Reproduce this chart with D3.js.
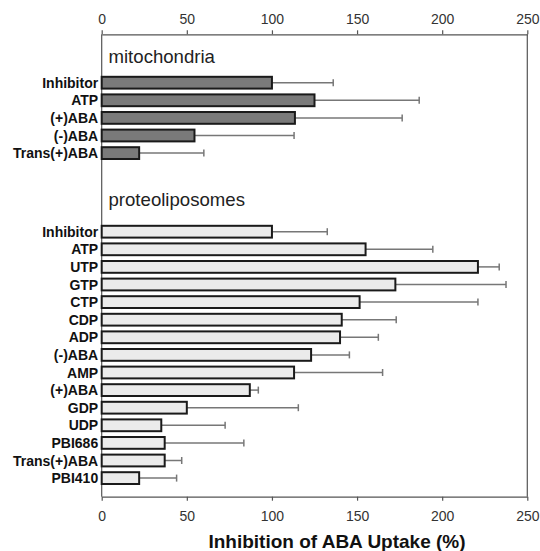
<!DOCTYPE html>
<html>
<head>
<meta charset="utf-8">
<script src="https://cdn.jsdelivr.net/npm/d3@7"></script>
<style>
  html, body { margin: 0; padding: 0; background: #fff; }
  svg { display: block; font-family: "Liberation Sans", Arial, sans-serif; }
</style>
</head>
<body>
<svg id="chart" width="540" height="551"></svg>
<script>
// ---- data ----
const mitoCategories = ["Inhibitor", "ATP", "(+)ABA", "(-)ABA", "Trans(+)ABA"];
const mitoValues = [100, 125, 113.5, 54.5, 22];
const mitoErrors = [36, 61.5, 63, 58.5, 38];

const proteoCategories = ["Inhibitor", "ATP", "UTP", "GTP", "CTP", "CDP", "ADP", "(-)ABA",
  "AMP", "(+)ABA", "GDP", "UDP", "PBI686", "Trans(+)ABA", "PBI410"];
const proteoValues = [100, 155, 221, 172.5, 151.5, 141, 140, 123, 113, 87, 50, 35, 37, 37, 22];
const proteoErrors = [32.5, 39.5, 12.5, 65, 69.5, 32, 22.5, 22.5, 52, 5, 65.5, 37.5, 46.5, 10, 22];

const tickValues = [0, 50, 100, 150, 200, 250];
const panelTitles = ["mitochondria", "proteoliposomes"];
const axisTitle = "Inhibition of ABA Uptake (%)";

// ---- layout ----
const svg = d3.select("#chart");
const xLeft = 101.7, xRight = 527.3, yTop = 34.3, yBottom = 496.7;
const step = 17.6;

const x = d3.scaleLinear().domain([0, 250]).range([xLeft, xRight]);

const yMito = d3.scaleBand().domain(mitoCategories)
  .range([82.7 - step / 2, 82.7 - step / 2 + step * mitoCategories.length])
  .paddingInner(0.33).paddingOuter(0.165);
const yProteo = d3.scaleBand().domain(proteoCategories)
  .range([231.7 - step / 2, 231.7 - step / 2 + step * proteoCategories.length])
  .paddingInner(0.33).paddingOuter(0.165);

// frame lines
svg.append("line").attr("x1", xLeft).attr("x2", xLeft).attr("y1", yTop).attr("y2", yBottom)
  .attr("stroke", "#555").attr("stroke-width", 1.2);
svg.append("line").attr("x1", xRight).attr("x2", xRight).attr("y1", yTop).attr("y2", yBottom)
  .attr("stroke", "#555").attr("stroke-width", 1.2);

// axes
const topAxis = svg.append("g").attr("transform", `translate(0,${yTop})`)
  .call(d3.axisTop(x).tickValues(tickValues).tickSize(4).tickSizeOuter(0).tickPadding(6));
const bottomAxis = svg.append("g").attr("transform", `translate(0,${yBottom})`)
  .call(d3.axisBottom(x).tickValues(tickValues).tickSize(4).tickSizeOuter(0).tickPadding(10));
[topAxis, bottomAxis].forEach(g => {
  g.select(".domain").attr("stroke", "#555").attr("stroke-width", 1.2);
  g.selectAll(".tick line").attr("stroke", "#555").attr("stroke-width", 1.2);
  g.selectAll(".tick text").attr("font-size", 14).attr("fill", "#333")
    .attr("font-family", "'Liberation Sans', Arial, sans-serif");
});

// panel titles
svg.append("text").attr("x", 108.5).attr("y", 63).text(panelTitles[0])
  .attr("font-size", 18.6).attr("fill", "#222");
svg.append("text").attr("x", 108.5).attr("y", 206).text(panelTitles[1])
  .attr("font-size", 18.6).attr("fill", "#222");

function drawPanel(cats, vals, errs, y, fill) {
  const g = svg.append("g");
  const rows = cats.map((c, i) => ({ c, v: vals[i], e: errs[i] }));
  // error bars
  g.selectAll("line.err").data(rows).join("line").attr("class", "err")
    .attr("x1", d => x(d.v)).attr("x2", d => x(d.v + d.e))
    .attr("y1", d => y(d.c) + y.bandwidth() / 2).attr("y2", d => y(d.c) + y.bandwidth() / 2)
    .attr("stroke", "#777").attr("stroke-width", 1.5);
  g.selectAll("line.cap").data(rows).join("line").attr("class", "cap")
    .attr("x1", d => x(d.v + d.e)).attr("x2", d => x(d.v + d.e))
    .attr("y1", d => y(d.c) + y.bandwidth() / 2 - 3.5).attr("y2", d => y(d.c) + y.bandwidth() / 2 + 3.5)
    .attr("stroke", "#777").attr("stroke-width", 1.5);
  // bars
  g.selectAll("rect").data(rows).join("rect")
    .attr("x", x(0)).attr("y", d => y(d.c))
    .attr("width", d => x(d.v) - x(0)).attr("height", y.bandwidth())
    .attr("fill", fill).attr("stroke", "#1a1a1a").attr("stroke-width", 2);
  // labels
  g.selectAll("text").data(rows).join("text")
    .attr("x", xLeft - 3.5).attr("y", d => y(d.c) + y.bandwidth() / 2)
    .attr("dy", "0.36em").attr("text-anchor", "end")
    .attr("font-size", 14).attr("font-weight", "bold").attr("fill", "#111")
    .text(d => d.c);
}
drawPanel(mitoCategories, mitoValues, mitoErrors, yMito, "#7a7a7a");
drawPanel(proteoCategories, proteoValues, proteoErrors, yProteo, "#ebebeb");

// axis title
svg.append("text").attr("x", 337).attr("y", 548).attr("text-anchor", "middle")
  .attr("font-size", 19).attr("font-weight", "bold").attr("fill", "#111")
  .text(axisTitle);
</script>
</body>
</html>
